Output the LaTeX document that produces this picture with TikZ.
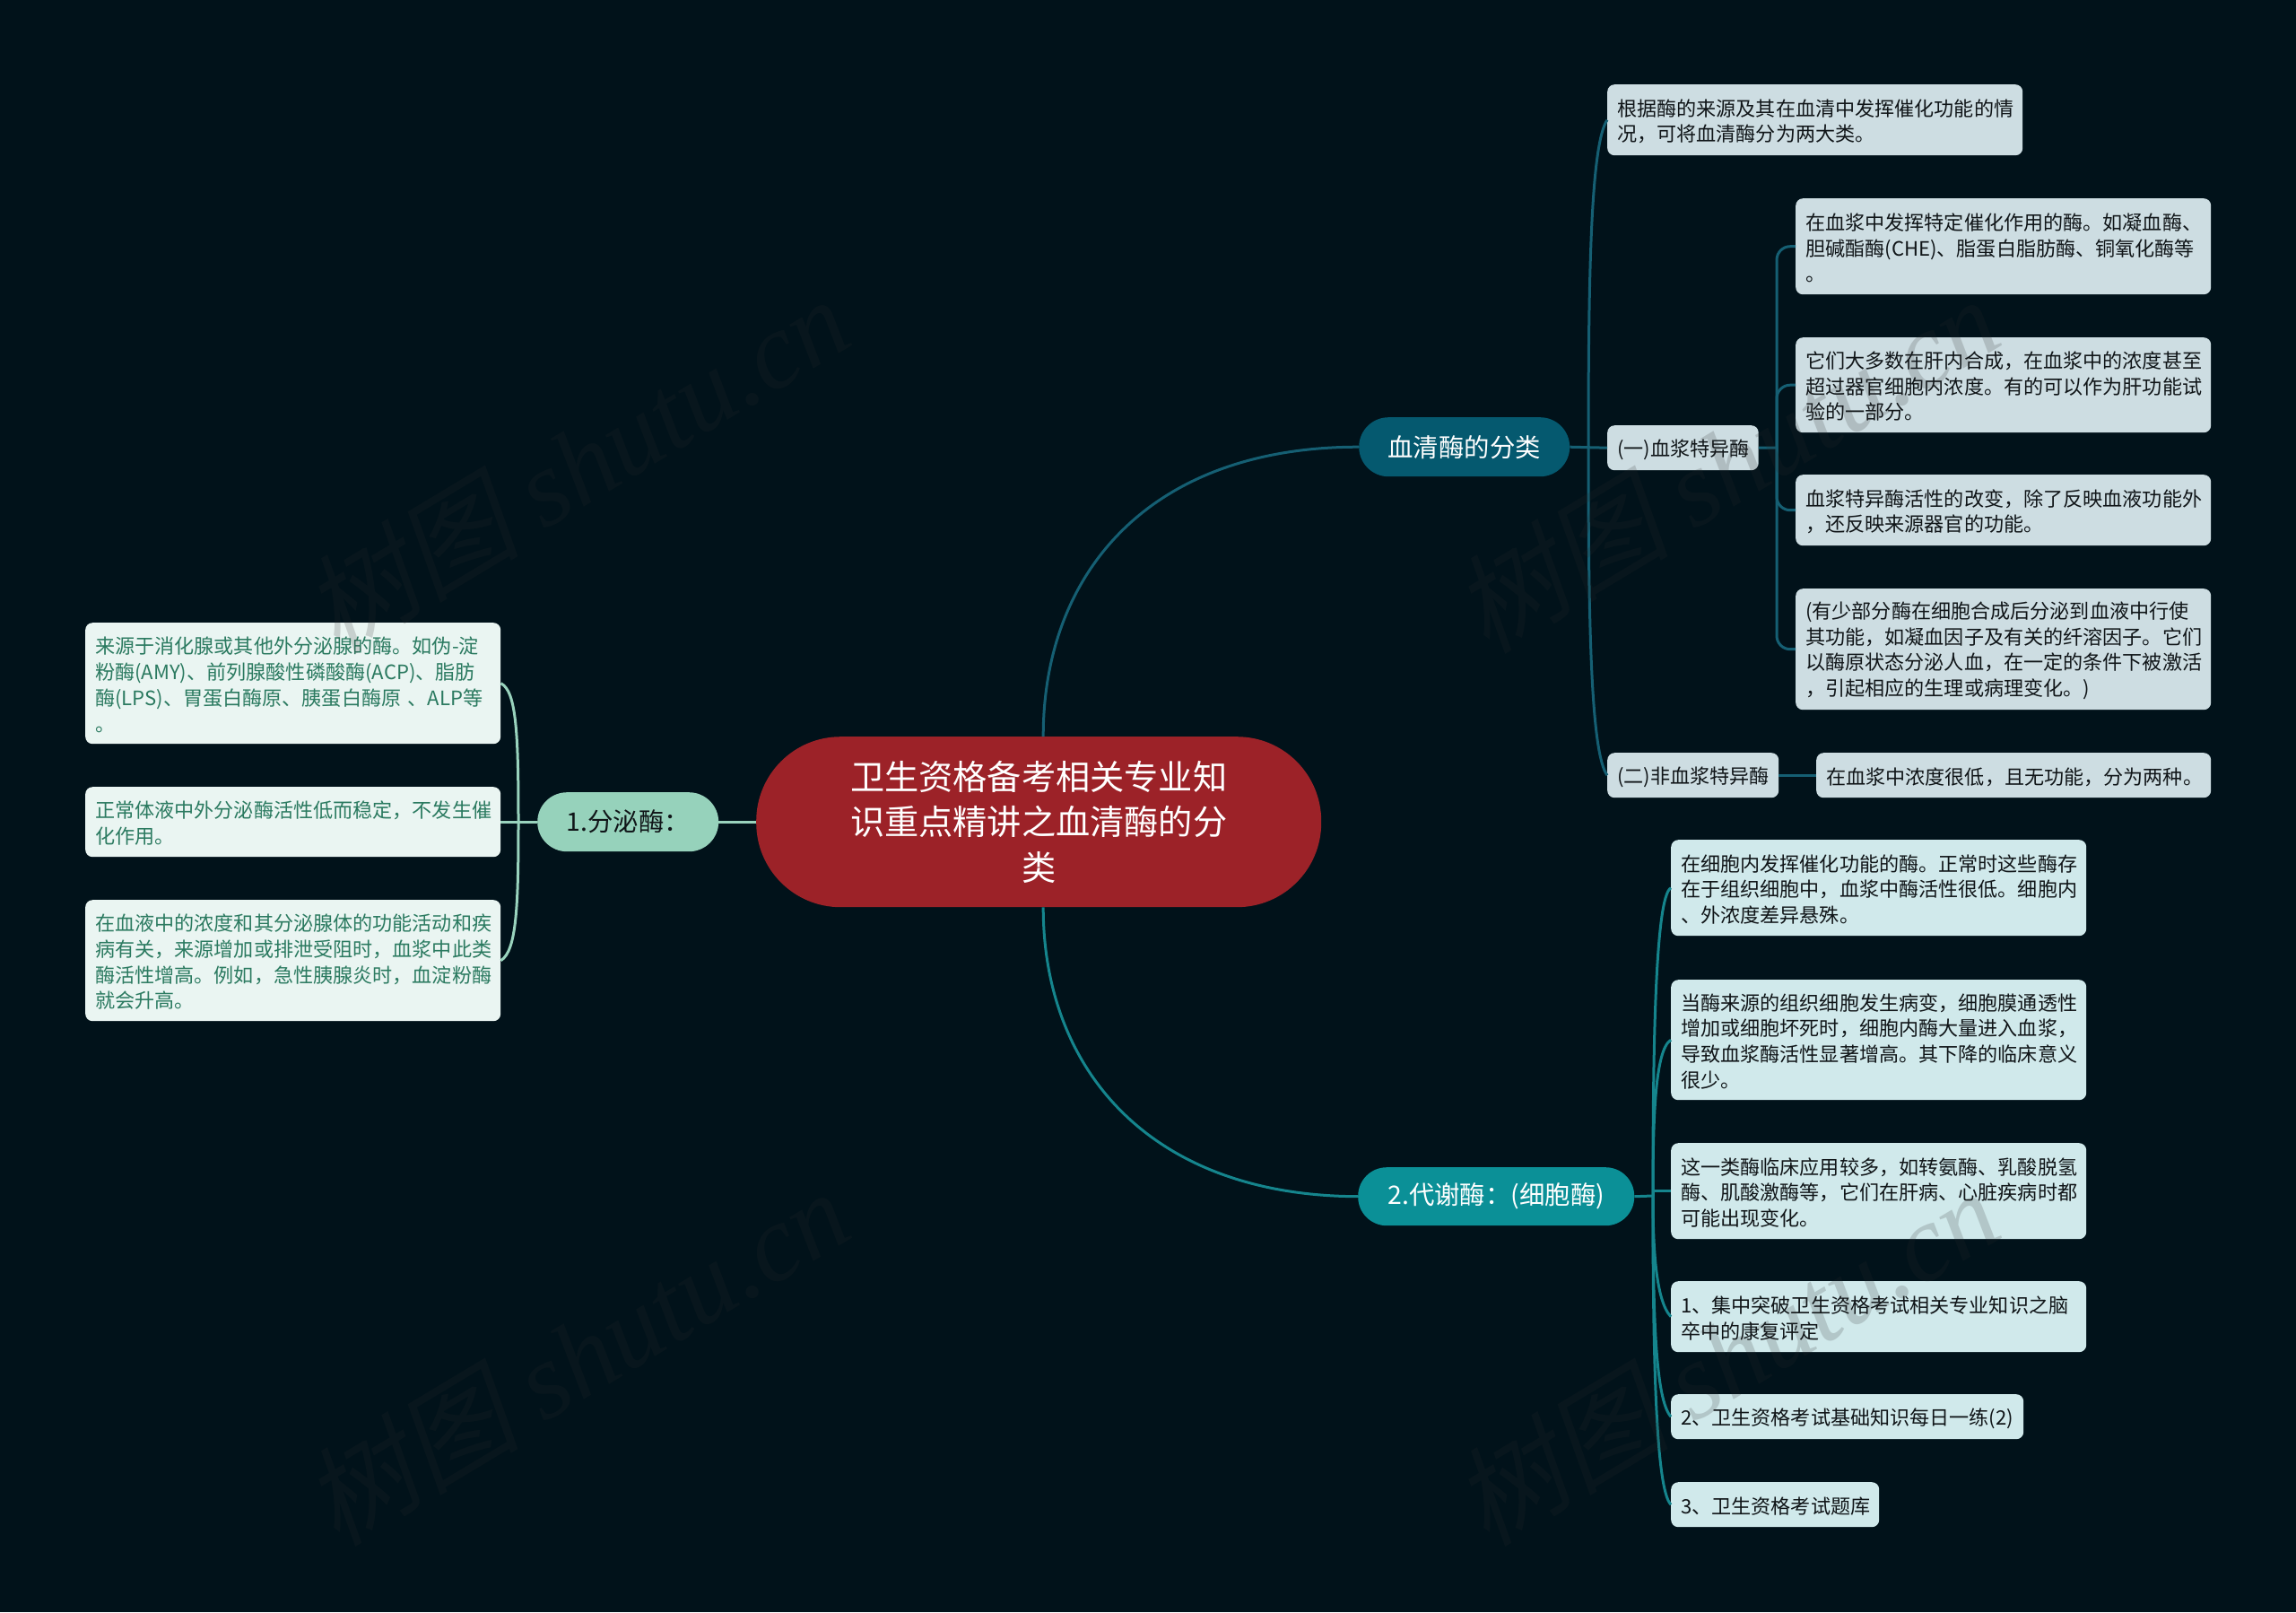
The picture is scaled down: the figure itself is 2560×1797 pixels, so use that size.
\documentclass[tikz,border=0pt]{standalone}
\usepackage{fontspec}
\setmainfont{Noto Sans CJK SC}
\newfontfamily\wmcjk[FakeSlant=0.2]{Noto Sans CJK SC}
\newfontfamily\wmlat{Liberation Serif}
\definecolor{bgc}{HTML}{01121A}
\definecolor{rootc}{HTML}{9C2228}
\definecolor{bluec}{HTML}{05596F}
\definecolor{tealc}{HTML}{0B9097}
\definecolor{mintc}{HTML}{96D2BB}
\definecolor{bluebox}{HTML}{CDDDE2}
\definecolor{tealbox}{HTML}{D0E9EB}
\definecolor{mintbox}{HTML}{EAF5F2}
\definecolor{minttext}{HTML}{2B7A60}
\definecolor{darktext}{HTML}{101518}
\definecolor{bluel}{HTML}{155F73}
\definecolor{teall}{HTML}{15858D}
\definecolor{mintl}{HTML}{99D3BD}
\definecolor{wmc}{HTML}{2B2B2B}
\tikzset{
  wh/.style 2 args={minimum width=#1pt, minimum height=#2pt, text width=#1pt-22pt},
  base/.style={anchor=north west, rounded corners=8pt, inner xsep=11pt, inner ysep=0pt, align=left,
    font=\fontsize{22.1}{28.7}\selectfont, execute at begin node={\rule{0pt}{22pt}}},
  bluenote/.style={base, fill=bluebox, text=darktext},
  tealnote/.style={base, fill=tealbox, text=darktext},
  mintnote/.style={base, fill=mintbox, text=minttext},
  pill/.style={anchor=north west, inner sep=0pt, align=center, font=\fontsize{28.4}{34}\selectfont},
  rootnode/.style={pill, fill=rootc, text=white, rounded corners=94pt, minimum width=630pt, minimum height=190pt,
    font=\fontsize{38.2}{50.7}\selectfont, text width=430pt},
  bluelink/.style={draw=bluel, line width=3pt},
  teallink/.style={draw=teall, line width=3pt},
  mintlink/.style={draw=mintl, line width=3pt},
  watermark/.style={rotate=31, text=wmc, opacity=0.18, inner sep=0pt}
}
\begin{document}
\begin{tikzpicture}[x=1pt,y=-1pt]
\fill[bgc] (0,0) rectangle (2560,1797);
\useasboundingbox (0,0) rectangle (2560,1797);
% main nodes
\node[rootnode] (root) at (843,821) {卫生资格备考相关专业知\\识重点精讲之血清酶的分\\类};
\node[pill, fill=bluec, text=white, rounded corners=33pt, minimum width=235pt, minimum height=66pt] (blood) at (1515,465) {血清酶的分类};
\node[pill, fill=tealc, text=white, rounded corners=32pt, minimum width=308pt, minimum height=65pt] (meta) at (1514,1301) {2.代谢酶：(细胞酶)};
\node[pill, fill=mintc, text=darktext, rounded corners=33pt, minimum width=202pt, minimum height=66pt] (sec) at (599,883) {1.分泌酶：};
% blue branch
\node[bluenote, wh={463}{79}] (a) at (1792,94) {根据酶的来源及其在血清中发挥催化功能的情\\况，可将血清酶分为两大类。};
\node[bluenote, wh={168.5}{50}] (one) at (1792,474) {(一)血浆特异酶};
\node[bluenote, wh={191}{50}] (two) at (1792,839) {(二)非血浆特异酶};
\node[bluenote, wh={463}{107}] (b1) at (2002,221) {在血浆中发挥特定催化作用的酶。如凝血酶、\\胆碱酯酶(CHE)、脂蛋白脂肪酶、铜氧化酶等\\。};
\node[bluenote, wh={463}{106}] (b2) at (2002,376) {它们大多数在肝内合成，在血浆中的浓度甚至\\超过器官细胞内浓度。有的可以作为肝功能试\\验的一部分。};
\node[bluenote, wh={463}{79}] (b3) at (2002,529) {血浆特异酶活性的改变，除了反映血液功能外\\，还反映来源器官的功能。};
\node[bluenote, wh={463}{135}] (b4) at (2002,656) {(有少部分酶在细胞合成后分泌到血液中行使\\其功能，如凝血因子及有关的纤溶因子。它们\\以酶原状态分泌人血，在一定的条件下被激活\\，引起相应的生理或病理变化。)};
\node[bluenote, wh={440}{50}] (b5) at (2025,839) {在血浆中浓度很低，且无功能，分为两种。};
% teal branch
\node[tealnote, wh={463}{107}] (c1) at (1863,936) {在细胞内发挥催化功能的酶。正常时这些酶存\\在于组织细胞中，血浆中酶活性很低。细胞内\\、外浓度差异悬殊。};
\node[tealnote, wh={463}{134}] (c2) at (1863,1092) {当酶来源的组织细胞发生病变，细胞膜通透性\\增加或细胞坏死时，细胞内酶大量进入血浆，\\导致血浆酶活性显著增高。其下降的临床意义\\很少。};
\node[tealnote, wh={463}{107}] (c3) at (1863,1274) {这一类酶临床应用较多，如转氨酶、乳酸脱氢\\酶、肌酸激酶等，它们在肝病、心脏疾病时都\\可能出现变化。};
\node[tealnote, wh={463}{79}] (c4) at (1863,1428) {1、集中突破卫生资格考试相关专业知识之脑\\卒中的康复评定};
\node[tealnote, wh={393}{50}] (c5) at (1863,1554) {2、卫生资格考试基础知识每日一练(2)};
\node[tealnote, wh={232}{50}] (c6) at (1863,1652) {3、卫生资格考试题库};
% mint branch
\node[mintnote, wh={463}{135}] (l1) at (95,694) {来源于消化腺或其他外分泌腺的酶。如伪-淀\\粉酶(AMY)、前列腺酸性磷酸酶(ACP)、脂肪\\酶(LPS)、胃蛋白酶原、胰蛋白酶原 、ALP等\\。};
\node[mintnote, wh={463}{78}] (l2) at (95,877) {正常体液中外分泌酶活性低而稳定，不发生催\\化作用。};
\node[mintnote, wh={463}{135}] (l3) at (95,1003) {在血液中的浓度和其分泌腺体的功能活动和疾\\病有关，来源增加或排泄受阻时，血浆中此类\\酶活性增高。例如，急性胰腺炎时，血淀粉酶\\就会升高。};
% bus coordinates
\coordinate (busblue) at (1771,498);
\coordinate (busone) at (1981,499);
\coordinate (busteal) at (1843,1333);
\coordinate (busmint) at (578,916);
% root links
\draw[bluelink] ([xshift=5pt]root.north) .. controls (1163,640) and (1280,498) .. (blood.west);
\draw[teallink] ([xshift=5pt]root.south) .. controls (1163,1190) and (1280,1333) .. (meta.west);
\draw[mintlink] (root.west |- sec.east) -- (sec.east);
% blue links
\draw[bluelink] (blood.east) -- (one.west);
\draw[bluelink] (busblue) .. controls (1771,300) and (1774,160) .. (a.west);
\draw[bluelink] (busblue) .. controls (1771,700) and (1774,840) .. (two.west);
\draw[bluelink] (one.east) -- (busone);
\draw[bluelink, rounded corners=15pt] (busone) |- (b1.west);
\draw[bluelink, rounded corners=15pt] (busone) |- (b2.west);
\draw[bluelink, rounded corners=15pt] (busone) |- (b3.west);
\draw[bluelink, rounded corners=15pt] (busone) |- (b4.west);
\draw[bluelink] (two.east) -- (b5.west);
% teal links
\draw[teallink] (meta.east) -- (busteal);
\draw[teallink] (busteal) -- (busteal |- c3.west) -- (c3.west);
\draw[teallink] (busteal) .. controls (1843,1180) and (1845,1000) .. (c1.west);
\draw[teallink] (busteal) .. controls (1843,1250) and (1845,1170) .. (c2.west);
\draw[teallink] (busteal) .. controls (1843,1390) and (1846,1450) .. (c4.west);
\draw[teallink] (busteal) .. controls (1843,1470) and (1846,1560) .. (c5.west);
\draw[teallink] (busteal) .. controls (1843,1510) and (1846,1660) .. (c6.west);
% mint links
\draw[mintlink] (sec.west) -- (l2.east);
\draw[mintlink] (busmint) .. controls (578,820) and (576,770) .. (l1.east);
\draw[mintlink] (busmint) .. controls (578,1010) and (576,1060) .. (l3.east);
% watermarks
\foreach \nm/\px/\py in {wa/642/517, wb/1924/517, wc/642/1512, wd/1924/1512} {
  \node[watermark] (\nm) at (\px,\py) {\fontsize{121}{130}\selectfont{\wmcjk 树图} {\wmlat\itshape shutu.cn}};
}
\end{tikzpicture}
\end{document}
